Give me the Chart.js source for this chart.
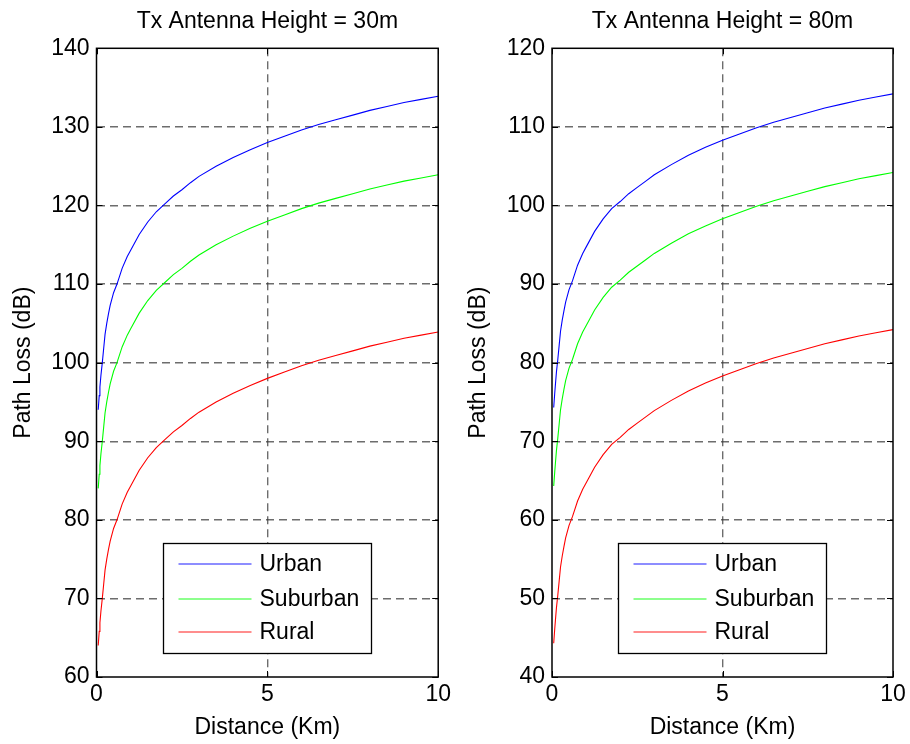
<!DOCTYPE html>
<html><head><meta charset="utf-8">
<script src="https://cdn.jsdelivr.net/npm/chart.js@4.4.0/dist/chart.umd.min.js"></script>
<style>
html,body{margin:0;padding:0;background:#fff;}
#wrap{position:relative;width:910px;height:744px;overflow:hidden;}
.box{position:absolute;top:0;width:455px;height:744px;}
canvas{display:block;}
</style></head><body>
<div id="wrap">
<div class="box" style="left:0"><canvas id="c1" width="455" height="744"></canvas></div>
<div class="box" style="left:455px"><canvas id="c2" width="455" height="744"></canvas></div>
</div>
<script>
// ---------- data ----------
const distanceKm = [0.05, 0.08, 0.1, 0.13, 0.17, 0.21, 0.25, 0.3, 0.35, 0.4, 0.5, 0.6, 0.75, 0.9, 1.0, 1.25, 1.5, 1.75, 2.0, 2.25, 2.5, 2.75, 3.0, 3.5, 4.0, 4.5, 5.0, 5.5, 6.0, 6.5, 7.0, 7.5, 8.0, 8.5, 9.0, 9.5, 10];

const urban30    = [94.0, 95.8, 96.9, 98.4, 100.0, 101.8, 103.6, 105.0, 106.2, 107.3, 108.9, 110.0, 112.0, 113.5, 114.3, 116.3, 117.9, 119.2, 120.2, 121.2, 122.0, 122.9, 123.7, 125.0, 126.1, 127.1, 128.0, 128.8, 129.6, 130.3, 130.9, 131.5, 132.1, 132.6, 133.1, 133.5, 133.9];
const suburban30 = [84.0, 85.8, 86.9, 88.4, 90.0, 91.8, 93.6, 95.0, 96.2, 97.3, 98.9, 100.0, 102.0, 103.5, 104.3, 106.3, 107.9, 109.2, 110.2, 111.2, 112.0, 112.9, 113.7, 115.0, 116.1, 117.1, 118.0, 118.8, 119.6, 120.3, 120.9, 121.5, 122.1, 122.6, 123.1, 123.5, 123.9];
const rural30    = [64.0, 65.8, 66.9, 68.4, 70.0, 71.8, 73.6, 75.0, 76.2, 77.3, 78.9, 80.0, 82.0, 83.5, 84.3, 86.3, 87.9, 89.2, 90.2, 91.2, 92.0, 92.9, 93.7, 95.0, 96.1, 97.1, 98.0, 98.8, 99.6, 100.3, 100.9, 101.5, 102.1, 102.6, 103.1, 103.5, 103.9];

const urban80    = [74.3, 76.1, 77.2, 78.8, 80.4, 82.2, 84.0, 85.4, 86.6, 87.7, 89.3, 90.4, 92.4, 93.9, 94.7, 96.7, 98.3, 99.6, 100.5, 101.5, 102.3, 103.1, 103.9, 105.2, 106.4, 107.4, 108.3, 109.1, 109.9, 110.6, 111.2, 111.8, 112.4, 112.9, 113.4, 113.8, 114.2];
const suburban80 = [64.3, 66.1, 67.2, 68.8, 70.4, 72.2, 74.0, 75.4, 76.6, 77.7, 79.3, 80.4, 82.4, 83.9, 84.7, 86.7, 88.3, 89.6, 90.5, 91.5, 92.3, 93.1, 93.9, 95.2, 96.4, 97.4, 98.3, 99.1, 99.9, 100.6, 101.2, 101.8, 102.4, 102.9, 103.4, 103.8, 104.2];
const rural80    = [44.3, 46.1, 47.2, 48.8, 50.4, 52.2, 54.0, 55.4, 56.6, 57.7, 59.3, 60.4, 62.4, 63.9, 64.7, 66.7, 68.3, 69.6, 70.5, 71.5, 72.3, 73.1, 73.9, 75.2, 76.4, 77.4, 78.3, 79.1, 79.9, 80.6, 81.2, 81.8, 82.4, 82.9, 83.4, 83.8, 84.2];

const seriesNames = ['Urban', 'Suburban', 'Rural'];
const seriesColors = ['#0000FF', '#00FF00', '#FF0000'];
const xTickStep = 5;
const yTickStep = 10;
const xLabel = 'Distance (Km)';
const yLabel = 'Path Loss (dB)';

// ---------- styling ----------
const FONT = '"Liberation Sans", Arial, Helvetica, sans-serif';
const FS = 23;
const GRID = 'rgba(60,60,60,0.75)';
Chart.defaults.font.family = FONT;

const framePlugin = {
  id: 'frame',
  afterDatasetsDraw(chart) {
    const ctx = chart.ctx, ca = chart.chartArea;
    // legend (inside plot, bottom centre)
    const bx = Math.round(ca.left + 66) + 0.5, by = 543.5, bw = 208, bh = 110;
    ctx.save();
    ctx.fillStyle = '#fff';
    ctx.fillRect(bx, by, bw, bh);
    ctx.strokeStyle = '#000';
    ctx.lineWidth = 1.3;
    ctx.strokeRect(bx, by, bw, bh);
    const rows = [20, 55, 88];
    ctx.font = FS + 'px ' + FONT;
    ctx.textAlign = 'left';
    ctx.textBaseline = 'middle';
    chart.data.datasets.forEach((ds, i) => {
      const y = Math.round(by + rows[i]);
      ctx.strokeStyle = ds.borderColor;
      ctx.globalAlpha = 0.6;
      ctx.lineWidth = 1.6;
      ctx.beginPath();
      ctx.moveTo(bx + 15, y);
      ctx.lineTo(bx + 88, y);
      ctx.stroke();
      ctx.globalAlpha = 1;
      ctx.fillStyle = '#000';
      ctx.fillText(ds.label, bx + 96, y + 1);
    });
    ctx.restore();
  },
  afterDraw(chart) {
    const o = chart.options.plugins.frame;
    const ctx = chart.ctx, ca = chart.chartArea;
    const xs = chart.scales.x, ys = chart.scales.y;
    ctx.save();
    ctx.strokeStyle = '#000';
    ctx.lineWidth = 1.5;
    ctx.strokeRect(ca.left, ca.top, ca.right - ca.left, ca.bottom - ca.top);
    ctx.lineWidth = 1;
    ctx.beginPath();
    xs.ticks.forEach(t => {
      const px = Math.round(xs.getPixelForValue(t.value)) + 0.5;
      ctx.moveTo(px, ca.bottom); ctx.lineTo(px, ca.bottom - 6);
      ctx.moveTo(px, ca.top); ctx.lineTo(px, ca.top + 6);
    });
    ys.ticks.forEach(t => {
      const py = Math.round(ys.getPixelForValue(t.value)) + 0.5;
      ctx.moveTo(ca.left, py); ctx.lineTo(ca.left + 6, py);
      ctx.moveTo(ca.right, py); ctx.lineTo(ca.right - 6, py);
    });
    ctx.stroke();
    // plot title
    ctx.fillStyle = '#000';
    ctx.font = FS + 'px ' + FONT;
    ctx.textAlign = 'center';
    ctx.textBaseline = 'alphabetic';
    ctx.fillText(o.title, (ca.left + ca.right) / 2, 28);
    ctx.restore();
  }
};

function makeChart(id, title, yMin, yMax, vals, leftW, rightPad) {
  const datasets = vals.map((v, i) => ({
    label: seriesNames[i],
    data: distanceKm.map((d, k) => ({x: d, y: v[k]})),
    borderColor: seriesColors[i],
    backgroundColor: seriesColors[i],
    borderWidth: 1.1,
    pointRadius: 0,
    tension: 0,
    fill: false
  }));
  const edgeColor = (min, max) => (c) => (c.tick.value === min || c.tick.value === max) ? 'rgba(0,0,0,0)' : GRID;
  return new Chart(document.getElementById(id), {
    type: 'line',
    data: {datasets},
    plugins: [framePlugin],
    options: {
      responsive: false,
      animation: false,
      layout: {padding: {left: 0, right: rightPad, top: 48.3, bottom: 0}},
      plugins: {
        legend: {display: false},
        tooltip: {enabled: false},
        title: {display: false},
        frame: {title}
      },
      scales: {
        x: {
          type: 'linear', min: 0, max: 10,
          ticks: {stepSize: xTickStep, padding: 4, color: '#000', font: {size: FS}, maxRotation: 0},
          grid: {drawTicks: false, color: edgeColor(0, 10), lineWidth: 1.4},
          border: {display: false, dash: [8, 5]},
          title: {display: true, text: xLabel, color: '#000', font: {size: FS}, padding: {top: 0, bottom: 3}},
          afterFit(s) { s.height = 744 - 677; }
        },
        y: {
          type: 'linear', min: yMin, max: yMax,
          ticks: {stepSize: yTickStep, padding: 7, color: '#000', font: {size: FS}},
          grid: {drawTicks: false, color: edgeColor(yMin, yMax), lineWidth: 1.4},
          border: {display: false, dash: [8, 5]},
          title: {display: true, text: yLabel, color: '#000', font: {size: FS}, padding: {top: 10, bottom: 0}},
          afterFit(s) { s.width = leftW; }
        }
      }
    }
  });
}

makeChart('c1', 'Tx Antenna Height = 30m', 60, 140, [urban30, suburban30, rural30], 96.5, 15);
makeChart('c2', 'Tx Antenna Height = 80m', 40, 120, [urban80, suburban80, rural80], 97, 17);
</script>
</body></html>
